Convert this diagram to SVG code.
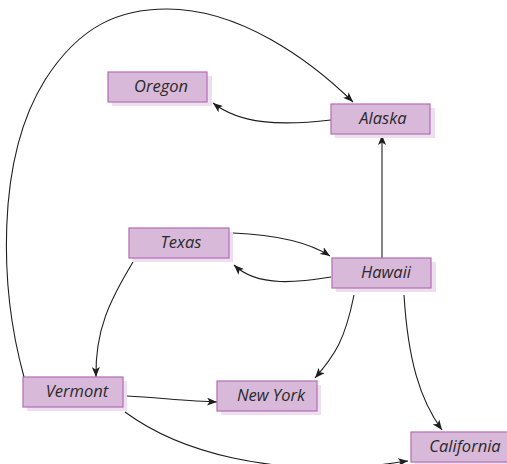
<svg xmlns="http://www.w3.org/2000/svg" width="507" height="464" viewBox="0 0 507 464">
<defs>
<style>
.shadow{fill:#eedff0;}
.box{fill:#d8b9d9;stroke:#b26db4;stroke-width:1.2;}
.lbl{font-family:"Open Sans","Liberation Sans",sans-serif;font-style:italic;font-size:16.5px;fill:#2a2a2a;text-anchor:middle;}
.edge{fill:none;stroke:#1e1e1e;stroke-width:1.1;marker-end:url(#arr);}
</style>
<marker id="arr" viewBox="0 0 10 8" refX="10" refY="4" markerWidth="10" markerHeight="8" markerUnits="userSpaceOnUse" orient="auto">
<path d="M0,0 L10,4 L0,8 L2.5,4 z" fill="#1e1e1e"/>
</marker>
</defs>
<rect width="507" height="464" fill="#ffffff"/>
<g id="connectors">
<path class="edge" d="M24,377 C0,290 -5,160 45,80 C80,25 120,9 167,9 C240,9 310,60 353,102"/>
<path class="edge" d="M331,120 C280,126 240,124 213,103"/>
<path class="edge" d="M382,258 L382,135"/>
<path class="edge" d="M233,233 C280,235 310,243 330,256"/>
<path class="edge" d="M331,277 C300,282 258,288 234,265"/>
<path class="edge" d="M133,262 C110,300 95,330 96,377"/>
<path class="edge" d="M354,295 C345,340 335,355 315,378"/>
<path class="edge" d="M404,295 C408,360 420,400 442,430"/>
<path class="edge" d="M127,396 C160,398 190,401 217,402"/>
<path class="edge" d="M125,412 C190,460 280,468 330,468 C370,468 390,463 408,461"/>
</g>
<g id="oregon">
<rect class="shadow" x="112" y="76" width="100" height="30"/>
<rect class="box" x="108" y="72" width="99" height="30"/>
<text class="lbl" x="161" y="92">Oregon</text>
</g>
<g id="alaska">
<rect class="shadow" x="335" y="108" width="100" height="30"/>
<rect class="box" x="331" y="104" width="99" height="30"/>
<text class="lbl" x="383" y="124">Alaska</text>
</g>
<g id="texas">
<rect class="shadow" x="133" y="232" width="100" height="30"/>
<rect class="box" x="129" y="228" width="100" height="30"/>
<text class="lbl" x="181" y="248">Texas</text>
</g>
<g id="hawaii">
<rect class="shadow" x="336" y="262" width="100" height="30"/>
<rect class="box" x="332" y="258" width="99" height="30"/>
<text class="lbl" x="386" y="278">Hawaii</text>
</g>
<g id="vermont">
<rect class="shadow" x="27" y="381" width="100" height="30"/>
<rect class="box" x="23" y="377" width="100" height="30"/>
<text class="lbl" x="77" y="397">Vermont</text>
</g>
<g id="newyork">
<rect class="shadow" x="221" y="385" width="100" height="30"/>
<rect class="box" x="217" y="381" width="100" height="30"/>
<text class="lbl" x="271" y="401">New York</text>
</g>
<g id="california">
<rect class="shadow" x="415" y="436" width="100" height="30"/>
<rect class="box" x="411" y="432" width="100" height="30"/>
<text class="lbl" x="465" y="452">California</text>
</g>
</svg>
